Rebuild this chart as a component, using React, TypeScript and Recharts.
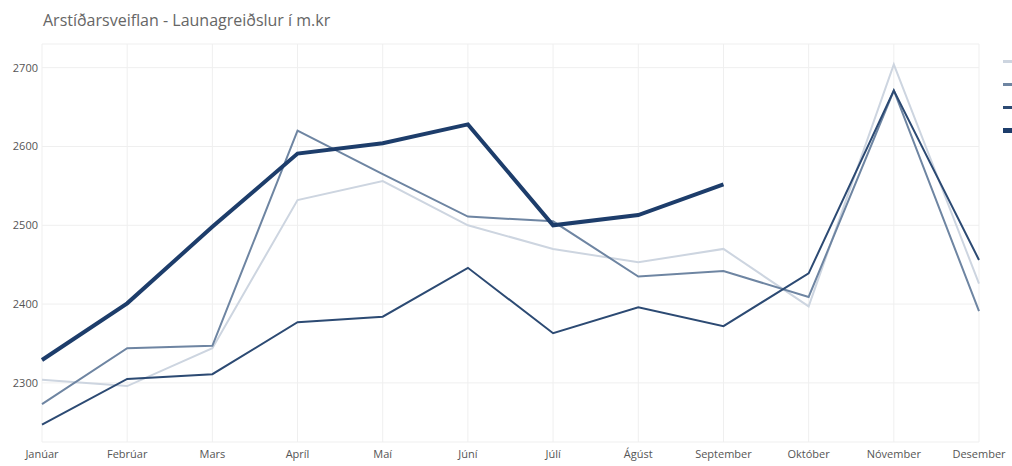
import React from 'react';
import { LineChart, Line, XAxis, YAxis, CartesianGrid, Legend } from 'recharts';

const months = ['Janúar', 'Febrúar', 'Mars', 'Apríl', 'Maí', 'Júní', 'Júlí', 'Ágúst', 'September', 'Október', 'Nóvember', 'Desember'];

const y2021 = [2304, 2296, 2344, 2532, 2556, 2500, 2470, 2453, 2470, 2397, 2704, 2426];
const y2022 = [2273, 2344, 2347, 2620, 2565, 2511, 2505, 2435, 2442, 2409, 2671, 2391];
const y2023 = [2247, 2305, 2311, 2377, 2384, 2446, 2363, 2396, 2372, 2439, 2671, 2456];
const y2024 = [2329, 2401, 2498, 2591, 2604, 2628, 2500, 2513, 2552, null, null, null];

const yTicks = [2300, 2400, 2500, 2600, 2700];

const seriesNames = ['2021', '2022', '2023', '2024'];

const data = months.map((m, i) => ({
  month: m,
  '2021': y2021[i],
  '2022': y2022[i],
  '2023': y2023[i],
  '2024': y2024[i],
}));

const styles = [
  { color: '#cdd5e0', width: 2 },
  { color: '#6e85a2', width: 2 },
  { color: '#2c4a73', width: 2 },
  { color: '#1d3d6b', width: 4 },
];

const font = '"Open Sans", "Noto Sans", sans-serif';

// legend sits mostly past the right edge, like in the original
function LegendBox() {
  return (
    <div>
      {seriesNames.map((name, i) => (
        <div key={name} style={{ height: 23, display: 'flex', alignItems: 'center', whiteSpace: 'nowrap' }}>
          <svg width={30} height={23}>
            <line x1={0} x2={30} y1={11.5} y2={11.5} stroke={styles[i].color} strokeWidth={styles[i].width + 1} />
          </svg>
          <span style={{ marginLeft: 6, fontSize: 12, color: '#666' }}>{name}</span>
        </div>
      ))}
    </div>
  );
}

export default function App() {
  return (
    <div style={{ position: 'absolute', left: 0, top: 0, width: 1012, height: 466, overflow: 'hidden', background: '#fff', fontFamily: font }}>
      <div style={{ position: 'absolute', left: 43, top: 9, fontSize: 16, color: '#666', whiteSpace: 'nowrap' }}>
        Arstíðarsveiflan - Launagreiðslur í m.kr
      </div>
      <LineChart width={1012} height={466} data={data} margin={{ top: 44, right: 33, left: 0, bottom: 0 }}>
        <CartesianGrid stroke="#efefef" strokeWidth={1} />
        <XAxis
          dataKey="month"
          height={24}
          axisLine={false}
          tickLine={false}
          interval={0}
          tick={{ fill: '#555', fontSize: 11, fontFamily: font }}
        />
        <YAxis
          width={42}
          domain={[2225, 2730]}
          ticks={yTicks}
          axisLine={false}
          tickLine={false}
          tickSize={2}
          tickMargin={2}
          tick={{ fill: '#555', fontSize: 11, fontFamily: font }}
        />
        <Legend
          layout="vertical"
          align="center"
          verticalAlign="middle"
          wrapperStyle={{ left: 1003, top: 50, width: 120 }}
          content={() => <LegendBox />}
        />
        {seriesNames.map((name, i) => (
          <Line
            key={name}
            type="linear"
            dataKey={name}
            stroke={styles[i].color}
            strokeWidth={styles[i].width}
            dot={false}
            activeDot={false}
            isAnimationActive={false}
          />
        ))}
      </LineChart>
    </div>
  );
}
